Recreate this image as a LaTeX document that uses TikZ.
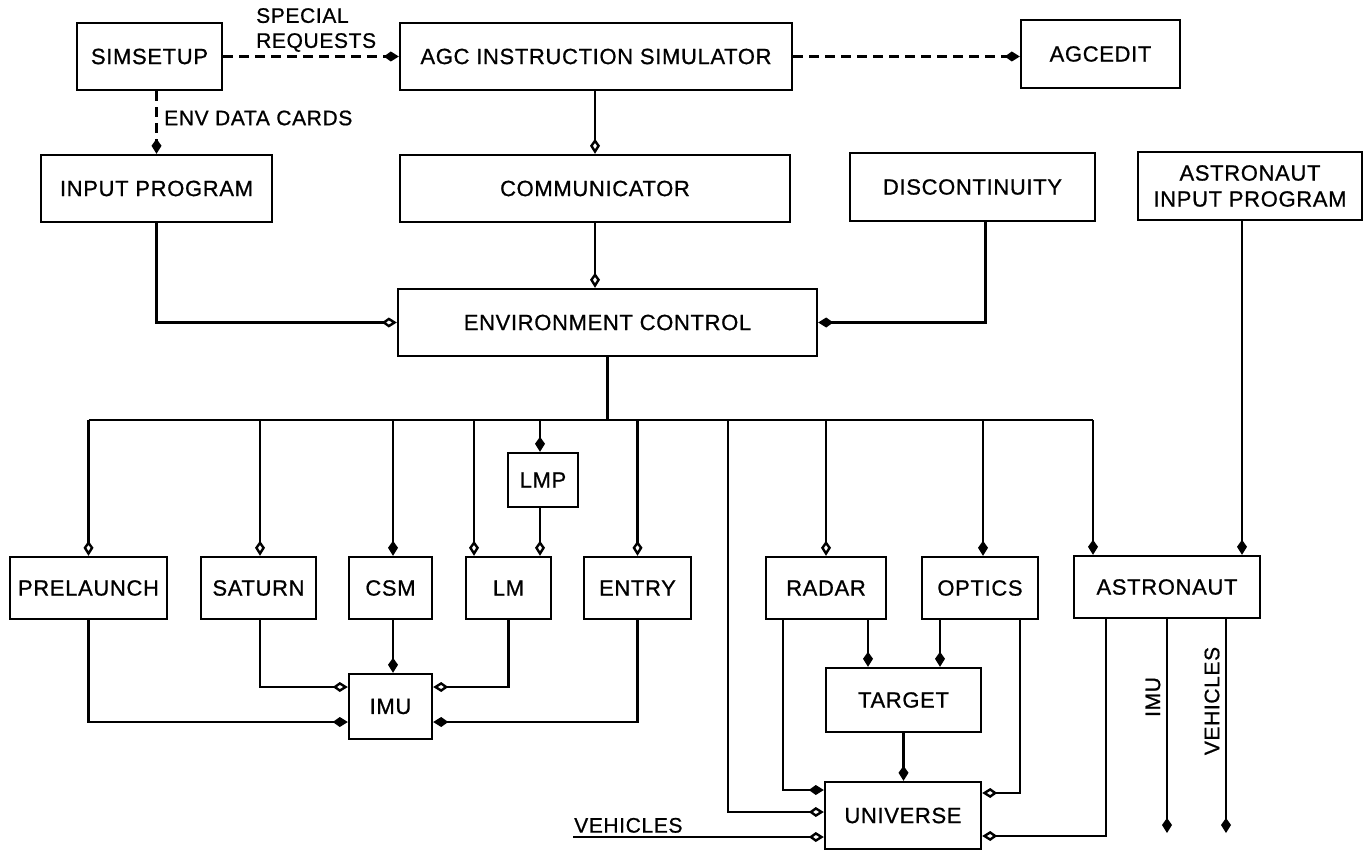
\documentclass[tikz,border=0pt]{standalone}
\usepackage{fontspec}
\setmainfont{Liberation Sans}
\newfontfamily\lblfont[LetterSpace=3,FakeBold=0.8]{Liberation Sans}
\usetikzlibrary{arrows.meta}
\begin{document}
\begin{tikzpicture}[x=1pt,y=-1pt,
  line width=2.4pt,
  box/.style={draw, rectangle, inner sep=0pt, font=\lblfont\fontsize{22}{24}\selectfont},
  lbl/.style={inner sep=0pt, font=\lblfont\fontsize{21}{24}\selectfont},
  tipF/.style={-{Kite[length=15pt,width=10pt,inset=7pt]}},
  tipO/.style={-{Kite[open,fill=white,length=15pt,width=10pt,inset=7pt]}},
  dashline/.style={dash pattern=on 10pt off 6pt}]
\useasboundingbox (0,0) rectangle (1372,850);

% --- top tier
\node[box, minimum width=145pt, minimum height=67pt] (simsetup) at (149.5,56.5) {SIMSETUP};
\node[box, minimum width=392pt, minimum height=67pt] (agc) at (596,56.5) {AGC INSTRUCTION SIMULATOR};
\node[box, minimum width=159pt, minimum height=68pt] (agcedit) at (1100.5,54) {AGCEDIT};

% --- second tier
\node[box, minimum width=231pt, minimum height=67pt] (input) at (156.5,188.5) {INPUT PROGRAM};
\node[box, minimum width=390pt, minimum height=67pt] (comm) at (595,188.5) {COMMUNICATOR};
\node[box, minimum width=245pt, minimum height=68pt] (disc) at (972.5,187) {DISCONTINUITY};
\node[box, minimum width=224pt, minimum height=68pt, align=center] (astin) at (1250,186)
  {ASTRONAUT\\[2pt]INPUT PROGRAM};

% --- control
\node[box, minimum width=419pt, minimum height=67pt] (env) at (607.5,322.5) {ENVIRONMENT CONTROL};

% --- modules
\node[box, minimum width=157pt, minimum height=62pt] (prelaunch) at (88.5,588) {PRELAUNCH};
\node[box, minimum width=115pt, minimum height=62pt] (saturn) at (258.5,588) {SATURN};
\node[box, minimum width=83pt, minimum height=62pt] (csm) at (390.5,588) {CSM};
\node[box, minimum width=70pt, minimum height=54pt] (lmp) at (543,480) {LMP};
\node[box, minimum width=85pt, minimum height=62pt] (lm) at (508.5,588) {LM};
\node[box, minimum width=107pt, minimum height=62pt] (entry) at (637.5,588) {ENTRY};
\node[box, minimum width=120pt, minimum height=62pt] (radar) at (826,588) {RADAR};
\node[box, minimum width=116pt, minimum height=62pt] (optics) at (980,588) {OPTICS};
\node[box, minimum width=186pt, minimum height=62pt] (astro) at (1167,587) {ASTRONAUT};

\node[box, minimum width=83pt, minimum height=65pt] (imu) at (390.5,706.5) {IMU};
\node[box, minimum width=155pt, minimum height=64pt] (target) at (903.5,700) {TARGET};
\node[box, minimum width=156pt, minimum height=67pt] (universe) at (903,815.5) {UNIVERSE};

% --- free ends
\coordinate (bus) at (0,420);
\coordinate (udrop) at (728,420);
\coordinate (vehin) at (573,837);
\coordinate (imuout) at (1167,833);
\coordinate (vehout) at (1226,833);

% --- labels
\node[lbl, anchor=west, align=left] (spreq) at (255,30) {SPECIAL\\[1pt]REQUESTS};
\node[lbl, anchor=west] (envcards) at (163,118) {ENV DATA CARDS};
\node[lbl, anchor=south west] (vehlbl) at ([yshift=3pt]vehin) {VEHICLES};
\node[lbl, rotate=90] (imulbl) at (1153,697) {IMU};
\node[lbl, rotate=90] (vehoutlbl) at (1212,701) {VEHICLES};

% --- dashed set-up flows
\draw[dashline, tipF] (simsetup.east) -- (agc.west);
\draw[dashline, tipF] (agc.east) -- (agc.east -| agcedit.west);
\draw[dashline, tipF] (input.north |- simsetup.south) -- (input.north);

% --- control flow
\draw[tipO] (comm.north |- agc.south) -- (comm.north);
\draw[tipO] (comm.south) -- (comm.south |- env.north);
\draw[tipO] (input.south) |- (env.west);
\draw[tipF] ([xshift=13pt]disc.south) |- (env.east);
\draw[tipF] ([xshift=-8pt]astin.south) -- ([xshift=-8pt]astin.south |- astro.north);

% --- distribution bus
\draw (env.south) -- (env.south |- bus);
\draw (prelaunch.north |- bus) -- ([xshift=-74pt]astro.north |- bus);
\draw[tipO] (prelaunch.north |- bus) -- (prelaunch.north);
\draw[tipO] ([xshift=1.5pt]saturn.north |- bus) -- ([xshift=1.5pt]saturn.north);
\draw[tipF] ([xshift=2.5pt]csm.north |- bus) -- ([xshift=2.5pt]csm.north);
\draw[tipF] ([xshift=-3pt]lmp.north |- bus) -- ([xshift=-3pt]lmp.north);
\draw[tipO] ([xshift=-34.5pt]lm.north |- bus) -- ([xshift=-34.5pt]lm.north);
\draw[tipO] ([xshift=-3pt]lmp.south) -- ([xshift=-3pt]lmp.south |- lm.north);
\draw[tipO] (entry.north |- bus) -- (entry.north);
\draw[tipO] (radar.north |- bus) -- (radar.north);
\draw[tipF] ([xshift=3pt]optics.north |- bus) -- ([xshift=3pt]optics.north);
\draw[tipF] ([xshift=-74pt]astro.north |- bus) -- ([xshift=-74pt]astro.north);
\draw[tipO] (udrop) |- ([yshift=3.5pt]universe.west);

% --- into the IMU
\draw[tipF] ([xshift=2.5pt]csm.south) -- ([xshift=2.5pt]csm.south |- imu.north);
\draw[tipO] ([xshift=1.5pt]saturn.south) |- ([yshift=19.5pt]imu.west);
\draw[tipF] (prelaunch.south) |- ([yshift=-15.5pt]imu.west);
\draw[tipO] (lm.south) |- ([yshift=19.5pt]imu.east);
\draw[tipF] (entry.south) |- ([yshift=-15.5pt]imu.east);

% --- target and universe
\draw[tipF] ([xshift=42pt]radar.south) -- ([xshift=42pt]radar.south |- target.north);
\draw[tipF] ([xshift=-40pt]optics.south) -- ([xshift=-40pt]optics.south |- target.north);
\draw[tipF] ([xshift=-43pt]radar.south) |- ([yshift=25.5pt]universe.west);
\draw[tipO] ([xshift=40pt]optics.south) |- ([yshift=22.5pt]universe.east);
\draw[tipF] (target.south) -- (target.south |- universe.north);
\draw[tipO] ([xshift=-61pt]astro.south) |- ([yshift=-20.5pt]universe.east);
\draw[tipO] (vehin) -- ([yshift=-21.5pt]universe.west);

% --- astronaut outputs
\draw[tipF] (astro.south) -- (imuout);
\draw[tipF] ([xshift=59pt]astro.south) -- (vehout);
\end{tikzpicture}
\end{document}
